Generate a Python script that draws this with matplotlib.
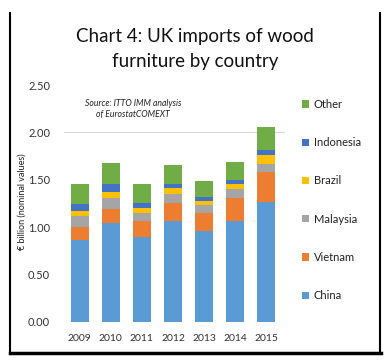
import matplotlib
matplotlib.use("Agg")
import matplotlib.pyplot as plt
from matplotlib.patches import Patch
from matplotlib.lines import Line2D
import numpy as np

plt.rcParams['font.family'] = ['Lato', 'DejaVu Sans']

years = ["2009", "2010", "2011", "2012", "2013", "2014", "2015"]
china = [0.86, 1.04, 0.90, 1.06, 0.96, 1.06, 1.265]
vietnam = [0.14, 0.15, 0.16, 0.195, 0.19, 0.25, 0.32]
malaysia = [0.12, 0.12, 0.09, 0.095, 0.08, 0.09, 0.085]
brazil = [0.05, 0.06, 0.05, 0.06, 0.05, 0.06, 0.09]
indonesia = [0.07, 0.09, 0.06, 0.05, 0.04, 0.04, 0.06]
other = [0.22, 0.22, 0.20, 0.20, 0.17, 0.19, 0.24]

series = [
    ("China", china, "#5B9BD5"),
    ("Vietnam", vietnam, "#ED7D31"),
    ("Malaysia", malaysia, "#A5A5A5"),
    ("Brazil", brazil, "#FFC000"),
    ("Indonesia", indonesia, "#4472C4"),
    ("Other", other, "#70AD47"),
]
yticks = [0.0, 0.5, 1.0, 1.5, 2.0, 2.5]

W, H = 391, 364
fig = plt.figure(figsize=(W / 100, H / 100), dpi=100)
ax = fig.add_axes([64 / W, 1 - 321.7 / H, (285 - 64) / W, (321.7 - 85.2) / H])

x = np.arange(len(years))
bottom = np.zeros(len(years))
handles = []
for name, vals, col in series:
    ax.bar(x, vals, width=0.58, bottom=bottom, color=col, zorder=3)
    bottom += np.array(vals)
    handles.append(Patch(facecolor=col, edgecolor='none', label=name))

ax.axhline(2.0, color='#D9D9D9', lw=0.8, zorder=1)
ax.set_xlim(-0.5, 6.6)
ax.set_ylim(0, 2.5)
ax.set_yticks(yticks)
ax.set_yticklabels([f"{v:.2f}" for v in yticks], fontsize=8, color='#333333')
ax.set_xticks(x)
ax.set_xticklabels(years, fontsize=7.5, color='#333333')
ax.tick_params(length=0, pad=9)
ax.tick_params(axis='y', pad=10)
for s in ax.spines.values():
    s.set_visible(False)

ax.text(0.312, 0.90, "Source: ITTO IMM analysis\nof EurostatCOMEXT", transform=ax.transAxes,
        ha='center', va='center', fontsize=6.2, style='italic', color='#222222', linespacing=1.2)

fig.text(22 / W, 1 - 202 / H, "€ billion (nominal values)", rotation=90, ha='center', va='center',
         fontsize=6.5, color='#222222')

fig.text(195 / W, 1 - 49 / H, "Chart 4: UK imports of wood\nfurniture by country", ha='center', va='center',
         fontsize=13.5, color='#111111', linespacing=1.55)

leg = fig.legend(handles=handles[::-1], loc='upper left', bbox_to_anchor=(302 / W, 1 - 99 / H),
                 frameon=False, fontsize=8, labelspacing=2.45, handlelength=0.65, handleheight=0.65,
                 handletextpad=0.4, borderpad=0, borderaxespad=0)
for t in leg.get_texts():
    t.set_color('#222222')

# frame border
fig.add_artist(Line2D([10 / W, 10 / W], [1 - 13 / H, 1 - 354 / H], transform=fig.transFigure, color='black', lw=1.5))
fig.add_artist(Line2D([380 / W, 380 / W], [1 - 13 / H, 1 - 354 / H], transform=fig.transFigure, color='black', lw=1.5))
fig.add_artist(Line2D([10 / W, 380.5 / W], [1 - 352.5 / H, 1 - 352.5 / H], transform=fig.transFigure, color='black', lw=2.5))

fig.savefig("out.png", dpi=100)
